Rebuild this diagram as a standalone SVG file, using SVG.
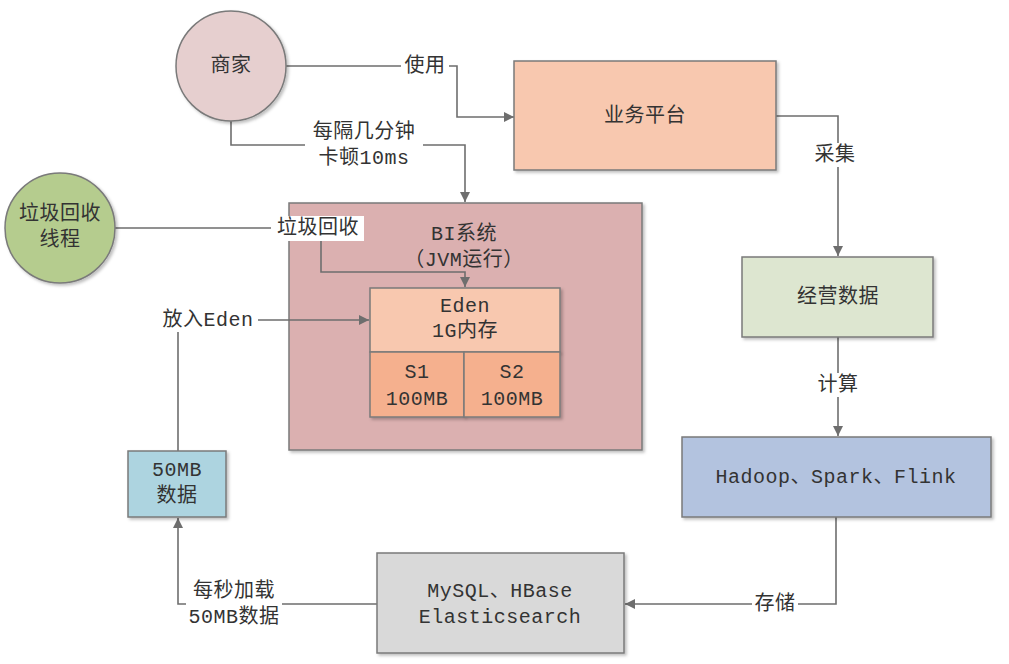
<svg xmlns="http://www.w3.org/2000/svg" width="1009" height="664" viewBox="0 0 1009 664">
<style>
text{font-family:"Liberation Mono","Noto Sans CJK SC",monospace;font-size:20px;fill:#333;text-anchor:middle;dominant-baseline:central;letter-spacing:0.5px}
.box{stroke:#7a7a7a;stroke-width:1.5;filter:url(#sh)}
.ln{fill:none;stroke:#6e6e6e;stroke-width:1.6}
.bg{fill:#fff}
</style>
<defs>
<filter id="sh" x="-10%" y="-10%" width="130%" height="130%"><feDropShadow dx="2" dy="2" stdDeviation="1.5" flood-color="#000" flood-opacity="0.25"/></filter>
<marker id="ar" viewBox="0 0 10 10" refX="10" refY="5" markerWidth="10" markerHeight="10" markerUnits="userSpaceOnUse" orient="auto"><path d="M0,0 L10,5 L0,10 z" fill="#6e6e6e"/></marker>
</defs>
<g id="bi"><rect class="box" x="289" y="203" width="353" height="247" fill="#DBB0B0"/><text x="464" y="234">BI系统</text><text x="464" y="260">（JVM运行）</text></g>
<g id="eden"><rect class="box" x="370" y="288" width="190" height="64" fill="#F8C8AF"/><text x="465" y="306">Eden</text><text x="465" y="331">1G内存</text></g>
<g id="s1"><rect class="box" x="370" y="352" width="94" height="65" fill="#F5B08E"/><text x="417" y="372">S1</text><text x="417" y="399">100MB</text></g>
<g id="s2"><rect class="box" x="464" y="352" width="96" height="65" fill="#F5B08E"/><text x="512" y="372">S2</text><text x="512" y="399">100MB</text></g>
<g id="connectors">
<path class="ln" d="M286,66 H457 V117 H514" marker-end="url(#ar)"/>
<path class="ln" d="M231,120 V145 H465 V202" marker-end="url(#ar)"/>
<path class="ln" d="M776,116 H838 V256" marker-end="url(#ar)"/>
<path class="ln" d="M838,337 V436" marker-end="url(#ar)"/>
<path class="ln" d="M836,517 V604 H625" marker-end="url(#ar)"/>
<path class="ln" d="M377,604 H178 V518" marker-end="url(#ar)"/>
<path class="ln" d="M178,451 V320 H369" marker-end="url(#ar)"/>
<path class="ln" d="M115,228 H321 V272 H465 V287" marker-end="url(#ar)"/>
<rect class="bg" x="401" y="54" width="48" height="24"/><text x="425" y="66">使用</text>
<rect class="bg" x="305" y="122" width="118" height="48"/><text x="364" y="132">每隔几分钟</text><text x="364" y="158">卡顿10ms</text>
<rect class="bg" x="812" y="143" width="46" height="24"/><text x="835" y="155">采集</text>
<rect class="bg" x="815" y="373" width="46" height="24"/><text x="838" y="385">计算</text>
<rect class="bg" x="752" y="592" width="46" height="24"/><text x="775" y="604">存储</text>
<rect class="bg" x="186" y="579" width="96" height="50"/><text x="234" y="591">每秒加载</text><text x="234" y="617">50MB数据</text>
<rect class="bg" x="158" y="308" width="100" height="24"/><text x="208" y="320">放入Eden</text>
<rect class="bg" x="271" y="216" width="93" height="25"/><text x="318" y="228">垃圾回收</text>
</g>
<g id="merchant"><circle class="box" cx="231" cy="66" r="55" fill="#E6CFCF"/><text x="231" y="66">商家</text></g>
<g id="gc"><circle class="box" cx="60" cy="228" r="55" fill="#B5CC8E"/><text x="60" y="214">垃圾回收</text><text x="60" y="240">线程</text></g>
<g id="platform"><rect class="box" x="514" y="61" width="262" height="109" fill="#F8C8AF"/><text x="645" y="116">业务平台</text></g>
<g id="bizdata"><rect class="box" x="742" y="257" width="191" height="80" fill="#DDE6D0"/><text x="838" y="297">经营数据</text></g>
<g id="compute"><rect class="box" x="682" y="437" width="309" height="80" fill="#B3C3DF"/><text x="836" y="477">Hadoop、Spark、Flink</text></g>
<g id="storage"><rect class="box" x="377" y="553" width="247" height="100" fill="#D9D9D9"/><text x="500" y="591">MySQL、HBase</text><text x="500" y="617">Elasticsearch</text></g>
<g id="data50"><rect class="box" x="128" y="451" width="98" height="66" fill="#ADD4E0"/><text x="177" y="470">50MB</text><text x="177" y="496">数据</text></g>
</svg>
